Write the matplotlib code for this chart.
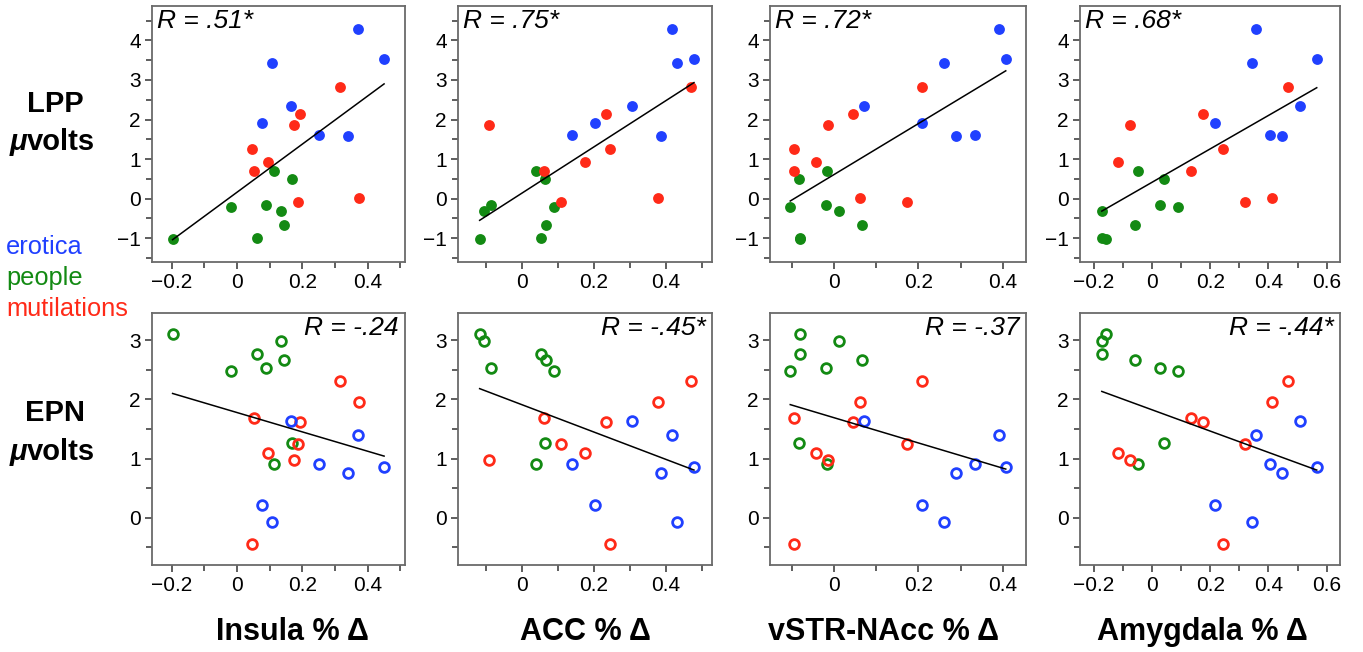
import matplotlib
matplotlib.use('Agg')
import matplotlib.pyplot as plt
import numpy as np
from matplotlib.ticker import MultipleLocator

plt.rcParams['font.family'] = ['Liberation Sans', 'DejaVu Sans']

# subjects keep the same order inside each category in every panel
lpp_erotica = [4.30, 3.52, 3.44, 2.34, 1.92, 1.61, 1.59]
epn_erotica = [1.39, 0.86, -0.07, 1.64, 0.21, 0.90, 0.76]
lpp_people = [-1.02, -0.21, -1.00, -0.16, 0.71, -0.30, -0.66, 0.51]
epn_people = [3.11, 2.48, 2.77, 2.53, 0.91, 2.98, 2.67, 1.26]
lpp_mutil = [2.82, 0.03, 0.71, 1.26, 2.14, -0.09, 0.92, 1.85]
epn_mutil = [2.31, 1.95, 1.69, -0.44, 1.61, 1.24, 1.09, 0.98]

# % signal change per ROI
insula_erotica = [0.371, 0.450, 0.108, 0.165, 0.077, 0.250, 0.341]
insula_people = [-0.197, -0.017, 0.061, 0.088, 0.113, 0.135, 0.145, 0.168]
insula_mutil = [0.316, 0.373, 0.052, 0.047, 0.194, 0.188, 0.094, 0.174]

acc_erotica = [0.417, 0.477, 0.429, 0.306, 0.202, 0.139, 0.386]
acc_people = [-0.117, 0.090, 0.052, -0.086, 0.039, -0.106, 0.067, 0.063]
acc_mutil = [0.468, 0.376, 0.061, 0.245, 0.232, 0.108, 0.175, -0.092]

vstr_erotica = [0.391, 0.407, 0.260, 0.071, 0.209, 0.333, 0.289]
vstr_people = [-0.082, -0.104, -0.080, -0.020, -0.017, 0.012, 0.066, -0.083]
vstr_mutil = [0.208, 0.061, -0.094, -0.094, 0.044, 0.172, -0.044, -0.015]

amyg_erotica = [0.356, 0.566, 0.342, 0.510, 0.217, 0.407, 0.445]
amyg_people = [-0.158, 0.090, -0.172, 0.027, -0.050, -0.173, -0.058, 0.042]
amyg_mutil = [0.468, 0.412, 0.134, 0.242, 0.174, 0.320, -0.116, -0.077]

roi_labels = ['Insula % Δ', 'ACC % Δ', 'vSTR-NAcc % Δ', 'Amygdala % Δ']
r_lpp = ['R = .51*', 'R = .75*', 'R = .72*', 'R = .68*']
r_epn = ['R = -.24', 'R = -.45*', 'R = -.37', 'R = -.44*']
xlims = [(-0.26, 0.514), (-0.177, 0.527), (-0.152, 0.455), (-0.248, 0.646)]

blue = '#2040ff'
green = '#138a13'
red = '#ff2a18'

rois = [
    (insula_erotica, insula_people, insula_mutil),
    (acc_erotica, acc_people, acc_mutil),
    (vstr_erotica, vstr_people, vstr_mutil),
    (amyg_erotica, amyg_people, amyg_mutil),
]

W, H = 1363, 652
fig = plt.figure(figsize=(W / 100, H / 100), dpi=100, facecolor='white')

col_left = [152, 458, 770, 1080]
col_width = [253, 254, 256, 260]
label_x = [292, 585, 884, 1202]


def style_axes(ax):
    for sp in ax.spines.values():
        sp.set_color('#6a6a6a')
        sp.set_linewidth(1.3)
    ax.tick_params(which='major', length=5, width=1.1, color='#333333',
                   labelsize=15, pad=3)
    ax.tick_params(which='minor', length=4, width=1.1, color='#333333')
    ax.xaxis.set_major_locator(MultipleLocator(0.2))
    ax.xaxis.set_minor_locator(MultipleLocator(0.1))
    ax.xaxis.set_major_formatter(plt.FuncFormatter(
        lambda v, p: '0' if abs(v) < 1e-9 else ('%.1f' % v).replace('-', '\u2212')))


for i, (xe, xp, xm) in enumerate(rois):
    # top row: LPP, filled markers
    ax = fig.add_axes([col_left[i] / W, 1 - 262 / H, col_width[i] / W, 256 / H])
    style_axes(ax)
    for xs, ys, c in [(xp, lpp_people, green), (xm, lpp_mutil, red), (xe, lpp_erotica, blue)]:
        ax.plot(xs, ys, 'o', color=c, markersize=7.8, markeredgewidth=0)
    allx = np.array(xe + xp + xm)
    ally = np.array(lpp_erotica + lpp_people + lpp_mutil)
    b, a = np.polyfit(allx, ally, 1)
    xx = np.array([allx.min(), allx.max()])
    ax.plot(xx, a + b * xx, color='black', lw=1.1)
    ax.set_xlim(*xlims[i])
    ax.set_ylim(-1.6, 4.87)
    ax.yaxis.set_major_locator(MultipleLocator(1))
    ax.yaxis.set_minor_locator(MultipleLocator(0.5))
    ax.text(0.02, 0.99, r_lpp[i], transform=ax.transAxes, ha='left', va='top',
            fontsize=19, style='italic')

    # bottom row: EPN, open markers
    ax = fig.add_axes([col_left[i] / W, 1 - 565 / H, col_width[i] / W, 252 / H])
    style_axes(ax)
    for xs, ys, c in [(xp, epn_people, green), (xm, epn_mutil, red), (xe, epn_erotica, blue)]:
        ax.plot(xs, ys, 'o', markerfacecolor='none', markeredgecolor=c,
                markersize=7.0, markeredgewidth=2.0)
    ally = np.array(epn_erotica + epn_people + epn_mutil)
    b, a = np.polyfit(allx, ally, 1)
    ax.plot(xx, a + b * xx, color='black', lw=1.1)
    ax.set_xlim(*xlims[i])
    ax.set_ylim(-0.8, 3.46)
    ax.yaxis.set_major_locator(MultipleLocator(1))
    ax.yaxis.set_minor_locator(MultipleLocator(0.5))
    ax.text(0.975, 0.99, r_epn[i], transform=ax.transAxes, ha='right', va='top',
            fontsize=19, style='italic')

    fig.text(label_x[i] / W, 1 - 632 / H, roi_labels[i], ha='center', va='center',
             fontsize=22, weight='bold')

# row labels
fig.text(55 / W, 1 - 104 / H, 'LPP', ha='center', va='center', fontsize=21, weight='bold')
fig.text(27 / W, 1 - 142 / H, 'μ', ha='right', va='center', fontsize=21,
         weight='bold', style='italic')
fig.text(27 / W, 1 - 142 / H, 'volts', ha='left', va='center', fontsize=21, weight='bold')
fig.text(55 / W, 1 - 413 / H, 'EPN', ha='center', va='center', fontsize=21, weight='bold')
fig.text(27 / W, 1 - 452 / H, 'μ', ha='right', va='center', fontsize=21,
         weight='bold', style='italic')
fig.text(27 / W, 1 - 452 / H, 'volts', ha='left', va='center', fontsize=21, weight='bold')

# category key
fig.text(6 / W, 1 - 247 / H, 'erotica', color=blue, fontsize=18.3, va='center')
fig.text(6 / W, 1 - 278 / H, 'people', color=green, fontsize=18.3, va='center')
fig.text(6 / W, 1 - 309 / H, 'mutilations', color=red, fontsize=18.3, va='center')

fig.savefig('out.png', dpi=100, facecolor='white')
